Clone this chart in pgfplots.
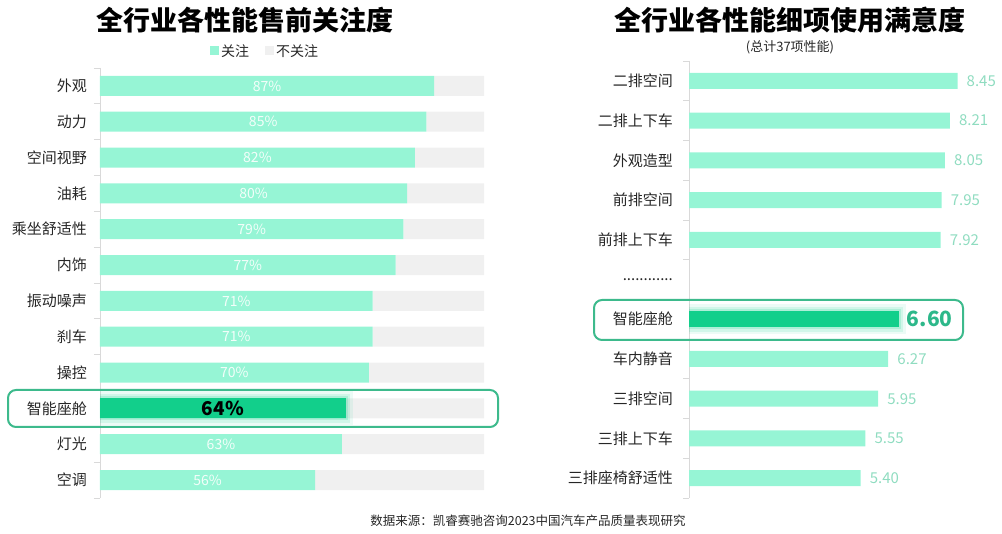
\documentclass[border=0pt]{standalone}
\usepackage{pgfplots}
\pgfplotsset{compat=1.18}
\usepackage{pgfplotstable}
\usepackage{fontspec}
\setmainfont{Noto Sans CJK SC}

\definecolor{mint}{HTML}{96F5D5}
\definecolor{hl}{HTML}{12CF8B}
\definecolor{restc}{HTML}{F0F0F0}
\definecolor{boxc}{HTML}{3DBA8C}
\definecolor{vallab}{HTML}{8FDCC0}
\definecolor{hlval}{HTML}{2DB88A}
\definecolor{axisgrey}{HTML}{D9D9D9}
\definecolor{txt}{HTML}{262626}

% pre-sale attention (%), attention + not attention
\pgfplotstableread{
i v rest
0 87 13
1 85 15
2 82 18
3 80 20
4 79 21
5 77 23
6 71 29
7 71 29
8 70 30
9 64 36
10 63 37
11 56 44
}\attn

% satisfaction scores (row 5 is the gap, row 6 is highlighted)
\pgfplotstableread{
i v
0 8.45
1 8.21
2 8.05
3 7.95
4 7.92
7 6.27
8 5.95
9 5.55
10 5.40
}\satis

\newcommand{\fs}[1]{\fontsize{#1}{#1}\selectfont}
\newcommand{\dotrow}{.\kern0pt.\kern0pt.\kern0pt.\kern0pt.\kern0pt.\kern0pt.\kern0pt.\kern0pt.\kern0pt.\kern0pt.\kern0pt.}

\begin{document}
\begin{tikzpicture}
\useasboundingbox (0,0) rectangle (1002pt,534pt);

\pgfplotsset{
  base/.style={
    scale only axis, anchor=south west,
    /pgf/number format/assume math mode=true,
    y dir=reverse,
    axis x line=none, axis y line*=left,
    y axis line style={draw=axisgrey, line width=0.8pt, -},
    tick align=outside,
    major tick length=0pt, minor tick length=6pt,
    every tick/.style={draw=axisgrey, line width=0.8pt},
    yticklabel style={font=\fs{15}, text=txt, inner sep=0pt},
    clip=false,
  },
  over/.style={
    scale only axis, anchor=south west, hide axis, clip=true,
    /pgf/number format/assume math mode=true,
    y dir=reverse,
  },
  legsq/.style={legend image code/.code={\fill[##1] (0pt,-4.5pt) rectangle (9pt,4.5pt);}},
}

% ---------- left chart ----------
\begin{axis}[base,
  at={(100pt,36pt)}, width=384pt, height=430pt,
  xmin=0, xmax=100, ymin=-0.5, ymax=11.5,
  xbar stacked, bar width=20pt,
  ytick={0,...,11},
  yticklabels={外观,动力,空间视野,油耗,乘坐舒适性,内饰,振动噪声,刹车,操控,智能座舱,灯光,空调},
  yticklabel style={xshift=-13pt},
  minor ytick={-0.5,0.5,...,11.5},
  legend columns=2,
  legend style={draw=none, fill=none, at={(0.43,1)}, anchor=center, yshift=17pt,
    font=\fs{14}, text=txt,
    /tikz/every even column/.append style={column sep=14pt}},
]
\addplot[fill=mint, draw=none, legsq] table[x=v, y=i]{\attn};
\addlegendentry{关注}
\addplot[fill=restc, draw=none, legsq] table[x=rest, y=i]{\attn};
\addlegendentry{不关注}
\end{axis}

\begin{axis}[over,
  at={(100pt,36pt)}, width=384pt, height=430pt,
  xmin=0, xmax=100, ymin=-0.5, ymax=11.5,
]
\addplot[xbar, bar shift=0pt, bar width=20pt, draw=hl, opacity=0.08, line width=14pt] coordinates {(64,9)};
\addplot[xbar, bar shift=0pt, bar width=20pt, draw=hl, opacity=0.12, line width=9pt] coordinates {(64,9)};
\addplot[xbar, bar shift=0pt, bar width=20pt, draw=hl, opacity=0.18, line width=4pt] coordinates {(64,9)};
\addplot[xbar, bar shift=0pt, bar width=20pt, fill=hl, draw=none] coordinates {(64,9)};
\addplot[draw=none, mark=none, point meta=explicit, skip coords between index={9}{10},
  nodes near coords={\pgfmathprintnumber[fixed,precision=0]{\pgfplotspointmeta}\%},
  nodes near coords style={anchor=center, text=white!88!mint, font=\fs{14}}]
  table[x expr=\thisrow{v}/2, y=i, meta=v]{\attn};
\addplot[draw=none, mark=none, point meta=explicit,
  nodes near coords={\pgfmathprintnumber[fixed,precision=0]{\pgfplotspointmeta}\%},
  nodes near coords style={anchor=center, text=black, font=\bfseries\fs{19}}]
  coordinates {(32,9) [64]};
\end{axis}

% ---------- right chart ----------
\begin{axis}[base,
  at={(689pt,36pt)}, width=286pt, height=437pt,
  xmin=0, xmax=9, ymin=-0.5, ymax=10.5,
  ytick={0,...,10},
  yticklabels={二排空间,二排上下车,外观造型,前排空间,前排上下车,\dotrow,智能座舱,车内静音,三排空间,三排上下车,三排座椅舒适性},
  yticklabel style={xshift=-16pt},
  minor ytick={-0.5,0.5,...,10.5},
]
\addplot[xbar, bar shift=0pt, bar width=16pt, fill=mint, draw=none, point meta=x,
  nodes near coords={\pgfmathprintnumber[fixed,fixed zerofill,precision=2]{\pgfplotspointmeta}},
  nodes near coords style={anchor=west, inner sep=0pt, xshift=9pt, text=vallab, font=\fs{15}}]
  table[x=v, y=i]{\satis};
\end{axis}

\begin{axis}[over,
  at={(689pt,36pt)}, width=286pt, height=437pt,
  xmin=0, xmax=9, ymin=-0.5, ymax=10.5,
]
\addplot[xbar, bar shift=0pt, bar width=16pt, draw=hl, opacity=0.08, line width=14pt] coordinates {(6.60,6)};
\addplot[xbar, bar shift=0pt, bar width=16pt, draw=hl, opacity=0.12, line width=9pt] coordinates {(6.60,6)};
\addplot[xbar, bar shift=0pt, bar width=16pt, draw=hl, opacity=0.18, line width=4pt] coordinates {(6.60,6)};
\addplot[xbar, bar shift=0pt, bar width=16pt, fill=hl, draw=none, point meta=x,
  nodes near coords={\pgfmathprintnumber[fixed,fixed zerofill,precision=2]{\pgfplotspointmeta}},
  nodes near coords style={anchor=west, inner sep=0pt, xshift=8pt, text=hlval, font=\bfseries\fs{21}}]
  coordinates {(6.60,6)};
\end{axis}

% highlight frames
\draw[boxc, line width=2pt, rounded corners=8pt] (8pt,107pt) rectangle (498pt,144pt);
\draw[boxc, line width=2pt, rounded corners=8pt] (594pt,194pt) rectangle (963pt,234pt);

% titles and source
\node[font=\bfseries\fs{27}, text=black] at (245pt,514pt) {全行业各性能售前关注度};
\node[font=\bfseries\fs{27}, text=black] at (790pt,514pt) {全行业各性能细项使用满意度};
\node[font=\fs{13}, text=txt] at (790pt,487pt) {(总计37项性能)};
\node[font=\fs{12.5}, text=txt] at (528pt,13pt) {数据来源：凯睿赛驰咨询2023中国汽车产品质量表现研究};
\end{tikzpicture}
\end{document}
